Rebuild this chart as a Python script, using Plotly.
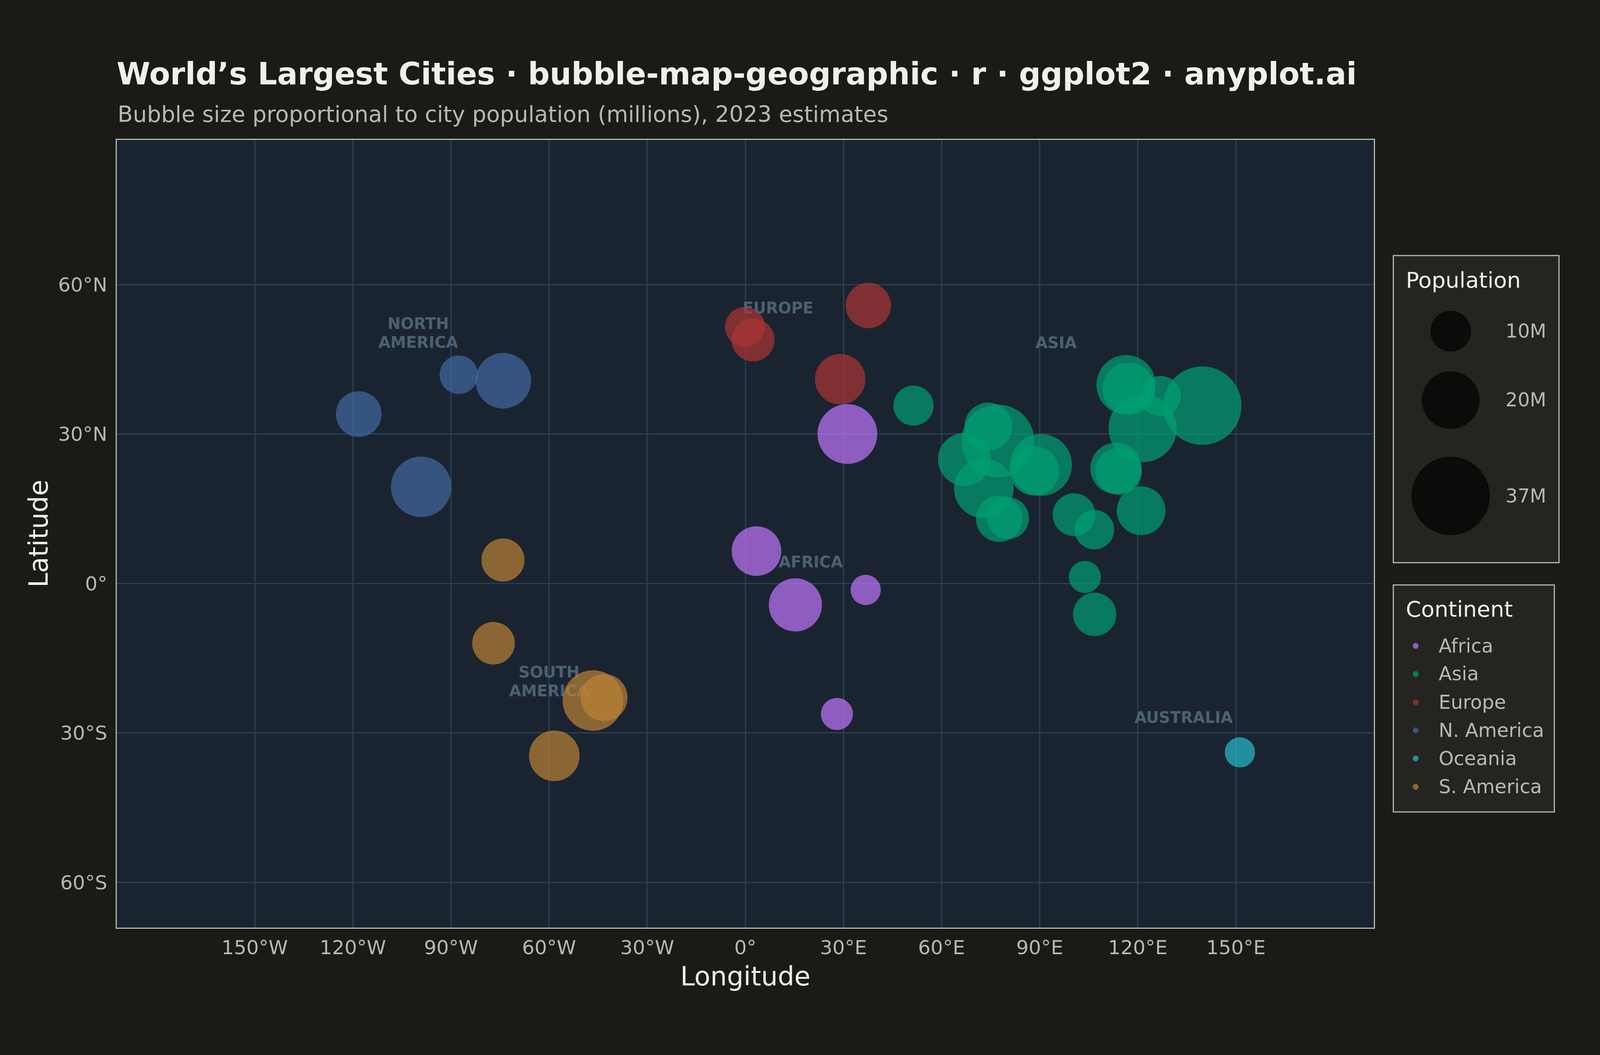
#!/usr/bin/env python3
"""World's largest cities as a lon/lat bubble map, drawn on plain cartesian axes."""

import math

import plotly.graph_objects as go

# layout is worked out on a 4800x2700 sheet and kept as fractions, so the
# figure stretches with the browser window instead of being clipped by it
W, H = 4800, 2700
PLOT_L, PLOT_R, PLOT_T, PLOT_B = 350, 4122, 358, 2373.5

BG = "#1A1A16"
PANEL = "#1A2431"
GRID = "#2C4156"
FRAME = "#B8B7B0"
TEXT = "#F0EFE8"
MUTED = "#B8B7B0"
REGION = "#4C6071"
KEY_BG = "#242521"
KEY_DOT = "#0B0B09"
FONT = "DejaVu Sans"
ALPHA = 0.7
PX_PER_SQRT_M = 33.0  # bubble diameter = this * sqrt(millions)
SIZEREF = 2 / PX_PER_SQRT_M ** 2

# ---------------------------------------------------------------------------
# Data
# ---------------------------------------------------------------------------

africa_lon = [31.2, 3.4, 15.3, 36.8, 28.0]
africa_lat = [30.0, 6.5, -4.3, -1.3, -26.2]
africa_pop = [21.5, 14.8, 17.0, 5.5, 6.2]

asia_lon = [139.7, 77.2, 121.5, 90.4, 116.4, 72.9, 67.0, 88.4, 121.0, 117.2,
            113.3, 114.1, 74.3, 77.6, 80.3, 100.5, 106.7, 127.0, 106.8, 103.8, 51.4]
asia_lat = [35.7, 28.6, 31.2, 23.8, 39.9, 19.1, 24.9, 22.6, 14.6, 39.1,
            23.1, 22.5, 31.5, 13.0, 13.1, 13.8, 10.8, 37.6, -6.2, 1.3, 35.7]
asia_pop = [37.0, 32.0, 28.0, 23.0, 21.1, 21.4, 16.9, 14.7, 14.3, 16.5,
            15.8, 13.0, 13.8, 13.0, 10.6, 11.0, 9.4, 9.8, 11.3, 6.2, 9.7]

europe_lon = [37.6, 29.0, 2.35, -0.1]
europe_lat = [55.8, 41.0, 48.9, 51.5]
europe_pop = [12.4, 15.3, 11.1, 9.6]

namerica_lon = [-99.1, -74.0, -118.2, -87.6]
namerica_lat = [19.4, 40.7, 34.0, 41.9]
namerica_pop = [22.0, 18.6, 12.6, 8.9]

oceania_lon = [151.2]
oceania_lat = [-33.9]
oceania_pop = [5.5]

samerica_lon = [-46.6, -43.2, -58.4, -74.1, -77.0]
samerica_lat = [-23.5, -22.9, -34.6, 4.7, -12.0]
samerica_pop = [22.0, 13.3, 15.4, 11.2, 10.9]

lon_ticks = [-150, -120, -90, -60, -30, 0, 30, 60, 90, 120, 150]
lon_labels = ["150°W", "120°W", "90°W", "60°W", "30°W", "0°", "30°E", "60°E", "90°E", "120°E", "150°E"]
lat_ticks = [-60, -30, 0, 30, 60]
lat_labels = ["60°S", "30°S", "0°", "30°N", "60°N"]

region_text = ["NORTH", "AMERICA", "SOUTH", "AMERICA", "EUROPE", "AFRICA", "ASIA", "AUSTRALIA"]
region_lon = [-100, -100, -60, -60, 10, 20, 95, 134]
region_lat = [51.9, 48.1, -18.1, -21.9, 55, 4, 48, -27.2]

key_pops = [10, 20, 37]
key_labels = ["10M", "20M", "37M"]

continent_names = ["Africa", "Asia", "Europe", "N. America", "Oceania", "S. America"]
continent_colors = ["#C176FC", "#009F73", "#AC3433", "#4269A2", "#28BDCD", "#BC8336"]
continent_lons = [africa_lon, asia_lon, europe_lon, namerica_lon, oceania_lon, samerica_lon]
continent_lats = [africa_lat, asia_lat, europe_lat, namerica_lat, oceania_lat, samerica_lat]
continent_pops = [africa_pop, asia_pop, europe_pop, namerica_pop, oceania_pop, samerica_pop]


def fx(px):
    return px / W


def fy(px):
    return 1 - px / H


def label(text, x, y, size, color, anchor="left"):
    return dict(text=text, xref="paper", yref="paper", x=fx(x), y=fy(y),
                xanchor=anchor, yanchor="middle", showarrow=False,
                font=dict(family=FONT, size=size, color=color))


def dot(x, y, diameter, color, opacity=1.0):
    """Round key marker: anchored in paper space, sized in pixels."""
    r = diameter / 2
    return dict(type="circle", xref="paper", yref="paper",
                xsizemode="pixel", ysizemode="pixel",
                xanchor=fx(x), yanchor=fy(y), x0=-r, x1=r, y0=-r, y1=r,
                fillcolor=color, opacity=opacity, line=dict(width=0))


def box(x0, x1, y0, y1):
    return dict(type="rect", xref="paper", yref="paper",
                x0=fx(x0), x1=fx(x1), y0=fy(y1), y1=fy(y0),
                fillcolor=KEY_BG, line=dict(color=FRAME, width=3))


# ---------------------------------------------------------------------------
# Figure
# ---------------------------------------------------------------------------

fig = go.Figure()

# labels go first so the bubbles sit on top of them
fig.add_trace(go.Scatter(
    x=region_lon, y=region_lat, text=region_text, mode="text",
    textposition="middle center",
    textfont=dict(family=FONT, size=40, color=REGION, weight="bold"),
    hoverinfo="skip",
))

for name, lon, lat, pop, color in zip(continent_names, continent_lons, continent_lats,
                                      continent_pops, continent_colors):
    fig.add_trace(go.Scatter(
        x=lon, y=lat, mode="markers", name=name,
        marker=dict(size=pop, sizemode="area", sizeref=SIZEREF, color=color,
                    opacity=ALPHA, line=dict(width=0)),
    ))

axis_common = dict(
    showgrid=True, gridcolor=GRID, gridwidth=3, zeroline=False,
    showline=True, linecolor=FRAME, linewidth=3, mirror=True,
    ticks="", automargin=False,
    tickfont=dict(family=FONT, size=50, color=MUTED),
)

fig.update_xaxes(
    range=[-192.2, 192.2], domain=[fx(PLOT_L), fx(PLOT_R)],
    tickmode="array", tickvals=lon_ticks, ticktext=lon_labels, ticklabelstandoff=5,
    title=dict(text="Longitude", font=dict(family=FONT, size=67, color=TEXT), standoff=23),
    **axis_common,
)
fig.update_yaxes(
    range=[-69.05, 89.05], domain=[fy(PLOT_B), fy(PLOT_T)],
    tickmode="array", tickvals=lat_ticks, ticktext=lat_labels, ticklabelstandoff=11,
    title=dict(text="Latitude", font=dict(family=FONT, size=67, color=TEXT), standoff=5),
    **axis_common,
)

shapes = [box(4180, 4677, 654, 1440), box(4180, 4663, 1497, 2078)]
annotations = [
    label("Bubble size proportional to city population (millions), 2023 estimates",
          350, 292, 57, MUTED),
    label("Population", 4215, 716, 56, TEXT),
    label("Continent", 4215, 1558, 56, TEXT),
]

# population key: same area scale as the bubbles
for pop, text, cy in zip(key_pops, key_labels, [847.5, 1024, 1269]):
    shapes.append(dot(4352, cy, PX_PER_SQRT_M * math.sqrt(pop), KEY_DOT))
    annotations.append(label(text, 4642, cy, 49, MUTED, anchor="right"))

# continent key
for name, color, cy in zip(continent_names, continent_colors,
                           [1653, 1725, 1797.5, 1869, 1941, 2013.6]):
    shapes.append(dot(4247, cy, 15, color, ALPHA))
    annotations.append(label(name, 4314, cy, 49, MUTED))

fig.update_layout(
    margin=dict(l=0, r=0, t=0, b=0),
    paper_bgcolor=BG, plot_bgcolor=PANEL,
    showlegend=False,
    title=dict(
        text="<b>World’s Largest Cities · bubble-map-geographic · r · ggplot2 · anyplot.ai</b>",
        x=fx(350), xanchor="left", xref="paper",
        y=fy(189), yanchor="middle", yref="container",
        font=dict(family=FONT, size=78, color=TEXT),
    ),
    shapes=shapes,
    annotations=annotations,
)

# the default page has an 8px white body margin around the plot
page_fix = (
    "document.body.style.margin='0';"
    f"document.body.style.background='{BG}';"
    "Plotly.Plots.resize(document.getElementById('{plot_id}'));"
)
fig.write_html("out.html", post_script=page_fix, config={"displayModeBar": False})
